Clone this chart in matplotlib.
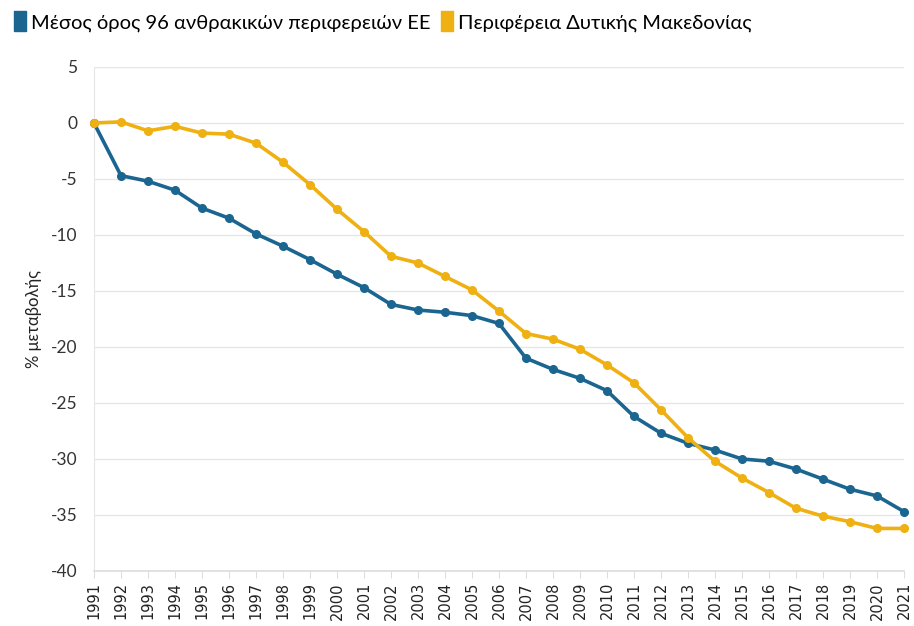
import matplotlib
matplotlib.use('Agg')
import matplotlib.pyplot as plt
from matplotlib.lines import Line2D

years = list(range(1991, 2022))

eu_avg = [0, -4.7, -5.2, -6.0, -7.6, -8.5, -9.9, -11.0, -12.2, -13.5,
          -14.7, -16.2, -16.7, -16.9, -17.2, -17.9, -21.0, -22.0, -22.8, -23.9,
          -26.2, -27.7, -28.6, -29.2, -30.0, -30.2, -30.9, -31.8, -32.7, -33.3,
          -34.7]

west_mac = [0, 0.1, -0.7, -0.3, -0.9, -1.0, -1.8, -3.5, -5.5, -7.7,
            -9.7, -11.9, -12.5, -13.7, -14.9, -16.8, -18.8, -19.3, -20.2, -21.6,
            -23.2, -25.6, -28.1, -30.2, -31.7, -33.0, -34.4, -35.1, -35.6, -36.2,
            -36.2]

labels = ['Μέσος όρος 96 ανθρακικών περιφερειών ΕΕ',
          'Περιφέρεια Δυτικής Μακεδονίας']
yticks = list(range(5, -45, -5))

blue = '#1b6591'
gold = '#efb012'

plt.rcParams['font.family'] = ['Lato', 'DejaVu Sans']

fig = plt.figure(figsize = (9.14, 6.26), dpi = 100)
ax = fig.add_axes([0.1028, 0.0879, 0.8862, 0.8051])

for vals, col in [(eu_avg, blue), (west_mac, gold)]:
    ax.plot(years, vals, color = col, lw = 2.6,
            marker = 'o', ms = 5.5, solid_joinstyle = 'round',
            solid_capstyle = 'round', clip_on = False, zorder = 3)

ax.set_xlim(1991, 2021)
ax.set_ylim(-40, 5)
ax.set_yticks(yticks)
ax.set_yticklabels([str(v) for v in yticks], fontsize = 12.5, color = '#333333')
ax.set_xticks(years)
ax.set_xticklabels([str(y) for y in years], rotation = 90,
                   fontsize = 10.5, family = 'DejaVu Sans', color = '#222222')

ax.grid(axis = 'y', color = '#e6e6e6', lw = 1)
ax.set_axisbelow(True)
for s in ['top', 'right']:
    ax.spines[s].set_visible(False)
ax.spines['left'].set_color('#e6e6e6')
ax.spines['bottom'].set_color('#dddddd')
ax.spines['bottom'].set_linewidth(1.2)
ax.tick_params(axis = 'y', length = 0, pad = 12)
ax.tick_params(axis = 'x', length = 5, color = '#dddddd', pad = 3)

ax.set_ylabel('% μεταβολής', fontsize = 12, color = '#222222', labelpad = 6)

# tall legend swatch like the original
swatch = [(-0.55, -1), (0.55, -1), (0.55, 1), (-0.55, 1), (-0.55, -1)]
handles = [Line2D([], [], ls = 'none', marker = swatch, ms = 15, color = c)
           for c in (blue, gold)]
fig.legend(handles, labels, loc = 'upper left', bbox_to_anchor = (0.0, 1.0),
           ncol = 2, frameon = False, fontsize = 14.5, handlelength = 0.6,
           handletextpad = 0.25, columnspacing = 0.5, borderaxespad = 0.3)

fig.savefig('out.png', dpi = 100)
